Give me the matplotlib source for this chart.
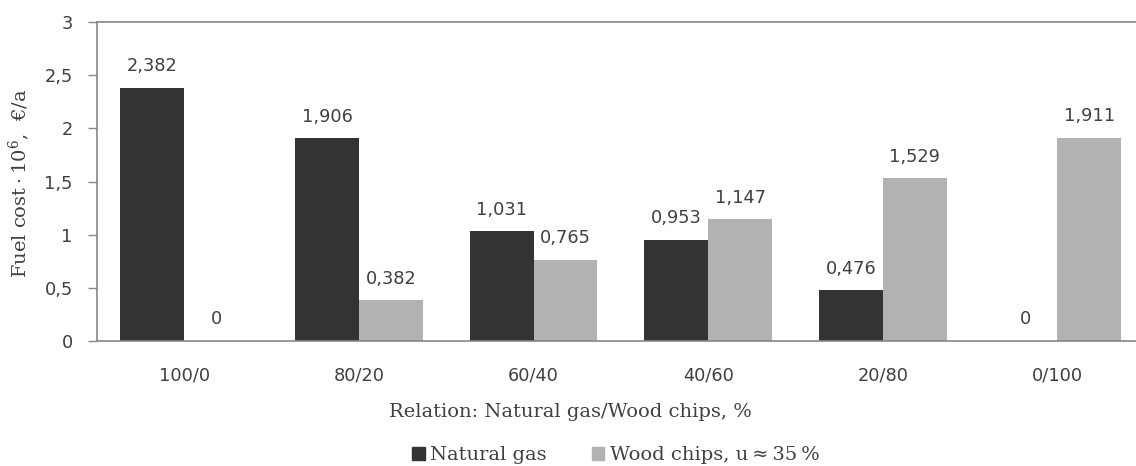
import matplotlib
matplotlib.use("Agg")
import matplotlib.pyplot as plt
import numpy as np
from matplotlib.patches import Patch

# Fuel cost for each natural gas / wood chips mix
categories = ["100/0", "80/20", "60/40", "40/60", "20/80", "0/100"]
natural_gas = [2.382, 1.906, 1.031, 0.953, 0.476, 0]
wood_chips = [0, 0.382, 0.765, 1.147, 1.529, 1.911]
series_names = ["Natural gas", "Wood chips, u\u2009\u2248\u200935\u2009%"]
y_ticks = [0, 0.5, 1, 1.5, 2, 2.5, 3]

DARK = "#333333"
LIGHT = "#b2b2b2"
TEXT = "#404040"
AXIS = "#868686"
SERIF = ["DejaVu Serif"]
SANS = ["DejaVu Sans"]
plt.rcParams["mathtext.default"] = "regular"

def fmt(v):
    s = f"{v:.3f}".rstrip("0").rstrip(".") if v != 0 else "0"
    return s.replace(".", ",")

fig = plt.figure(figsize=(11.36, 4.66), dpi=100)
ax = fig.add_axes([97 / 1136, 125 / 466, 1039 / 1136, 319 / 466])

x = np.arange(len(categories))
w = 0.366
b1 = ax.bar(x - w / 2, natural_gas, w, color=DARK, label=series_names[0])
b2 = ax.bar(x + w / 2, wood_chips, w, color=LIGHT, label=series_names[1])

for bars, vals in ((b1, natural_gas), (b2, wood_chips)):
    for rect, v in zip(bars, vals):
        ax.annotate(fmt(v), (rect.get_x() + rect.get_width() / 2, v),
                    xytext=(0, 9), textcoords="offset points",
                    ha="center", va="bottom", fontsize=12.8,
                    family=SANS, color=TEXT)

ax.set_xlim(-0.5, 5.45)
ax.set_ylim(0, 3)
ax.set_yticks(y_ticks)
ax.set_yticklabels([fmt(t) for t in y_ticks], family=SANS, fontsize=12.8, color=TEXT)
ax.set_xticks(x)
ax.set_xticklabels(categories, family=SANS, fontsize=12.8, color=TEXT)
ax.tick_params(axis="x", length=0, pad=18)
ax.tick_params(axis="y", length=6.5, width=1, color=AXIS, pad=11)

for side in ("left", "bottom", "top"):
    ax.spines[side].set_color(AXIS)
    ax.spines[side].set_linewidth(1.2)
ax.spines["right"].set_visible(False)

fig.text(19 / 1136, 1 - 183 / 466, "Fuel cost\u2009\u00b7\u200910$^{6}$,  \u20ac/a",
         rotation=90, ha="center", va="center", family=SERIF,
         fontsize=14, color=TEXT)
fig.text(570 / 1136, 1 - 412 / 466, "Relation: Natural gas/Wood chips, %",
         ha="center", va="center", family=SERIF, fontsize=14, color=TEXT)

handles = [Patch(color=DARK), Patch(color=LIGHT)]
fig.legend(handles, series_names, loc="center",
           bbox_to_anchor=(616 / 1136, 1 - 455 / 466), ncol=2, frameon=False,
           prop={"family": SERIF, "size": 14}, labelcolor=TEXT,
           handlelength=0.65, handleheight=0.65, handletextpad=0.28,
           columnspacing=2.3, borderpad=0.0)

fig.savefig("out.png", dpi=100)
